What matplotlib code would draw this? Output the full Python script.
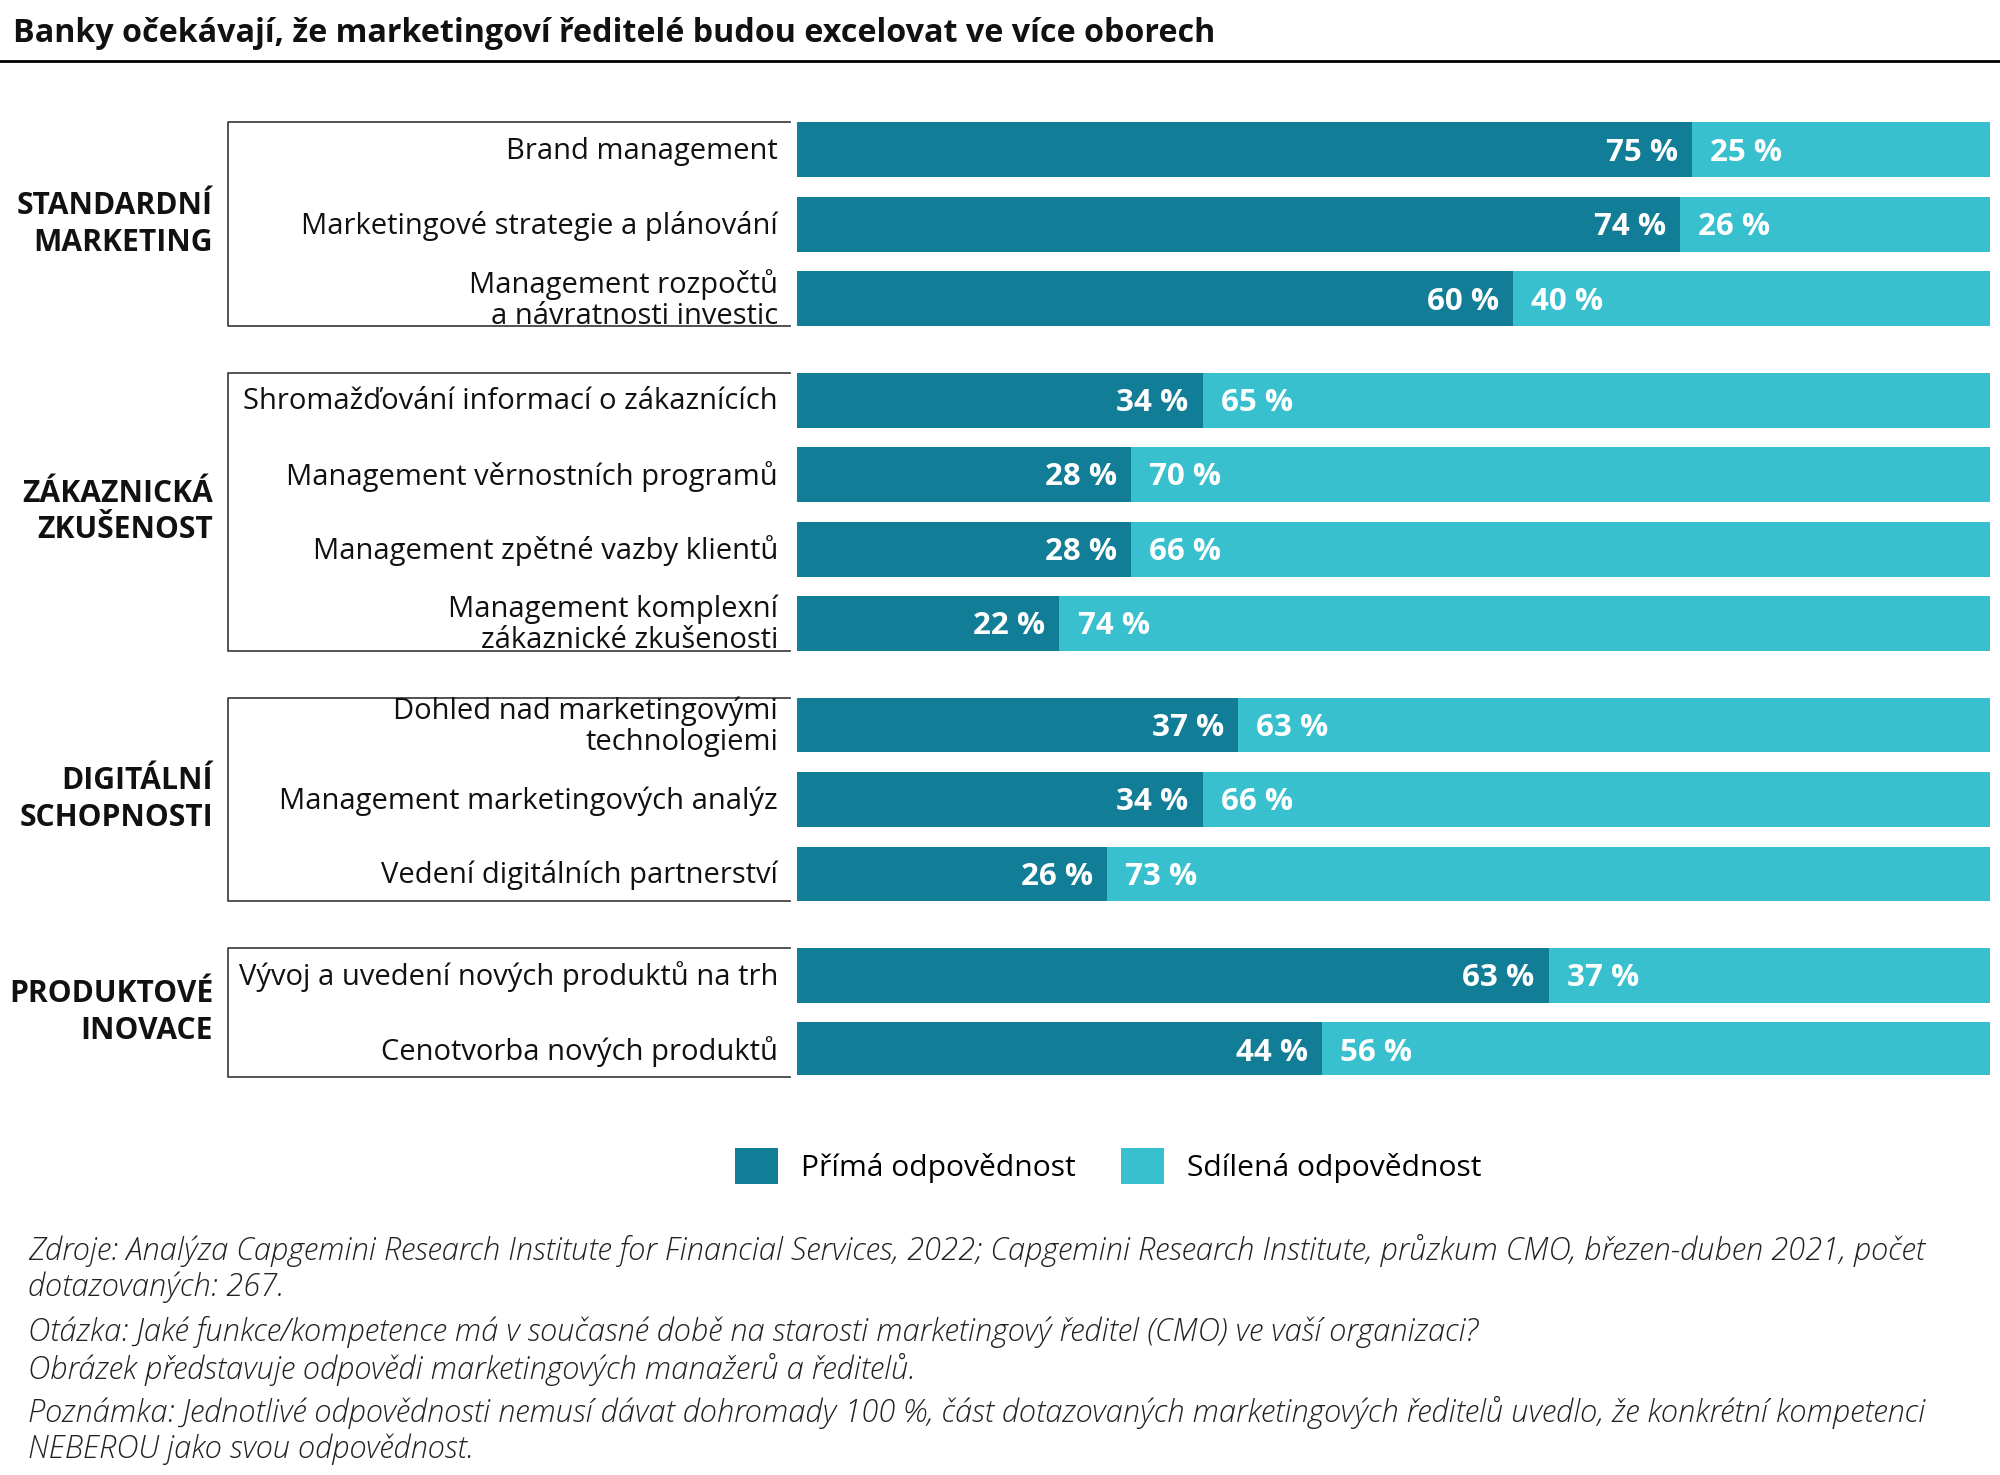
import numpy as np
import matplotlib.pyplot as plt
import matplotlib.transforms as mtransforms

plt.rcParams['font.family'] = ['Open Sans', 'DejaVu Sans']

############################################################################################################
# data
groups = ["STANDARDNÍ\nMARKETING", "ZÁKAZNICKÁ\nZKUŠENOST", "DIGITÁLNÍ\nSCHOPNOSTI", "PRODUKTOVÉ\nINOVACE"]
group_sizes = [3, 4, 3, 2]
items = ["Brand management",
         "Marketingové strategie a plánování",
         "Management rozpočtů\na návratnosti investic",
         "Shromažďování informací o zákaznících",
         "Management věrnostních programů",
         "Management zpětné vazby klientů",
         "Management komplexní\nzákaznické zkušenosti",
         "Dohled nad marketingovými\ntechnologiemi",
         "Management marketingových analýz",
         "Vedení digitálních partnerství",
         "Vývoj a uvedení nových produktů na trh",
         "Cenotvorba nových produktů"]
prima = [75, 74, 60, 34, 28, 28, 22, 37, 34, 26, 63, 44]
sdilena = [25, 26, 40, 65, 70, 66, 74, 63, 66, 73, 37, 56]
legend_labels = ["Přímá odpovědnost", "Sdílená odpovědnost"]

title = "Banky očekávají, že marketingoví ředitelé budou excelovat ve více oborech"
notes = ["Zdroje: Analýza Capgemini Research Institute for Financial Services, 2022; Capgemini Research Institute, průzkum CMO, březen-duben 2021, počet\ndotazovaných: 267.",
         "Otázka: Jaké funkce/kompetence má v současné době na starosti marketingový ředitel (CMO) ve vaší organizaci?\nObrázek představuje odpovědi marketingových manažerů a ředitelů.",
         "Poznámka: Jednotlivé odpovědnosti nemusí dávat dohromady 100 %, část dotazovaných marketingových ředitelů uvedlo, že konkrétní kompetenci\nNEBEROU jako svou odpovědnost."]

c_dark = "#127D96"
c_light = "#38C0CE"
W, H = 2000, 1475
###########################################################################################################
# row positions (group gap in row units)
gap = 0.36
ypos = []
k = 0
for g, n in enumerate(group_sizes):
    for i in range(n):
        ypos.append(k + g*gap)
        k += 1
ypos = np.array(ypos)
bh = 0.736

fig = plt.figure(figsize=(20, 14.75), dpi=100)
ax_top, ax_bot = 100, 1075
ax = fig.add_axes([797/W, 1 - ax_bot/H, (1990-797)/W, (ax_bot-ax_top)/H])
pitch = 74.5
top0 = (149.9 - ax_top)/pitch
ax.set_ylim(-top0 + (ax_bot-ax_top)/pitch, -top0)
ax.set_xlim(0, 100)
ax.axis('off')

b1 = ax.barh(ypos, prima, height=bh, color=c_dark, label=legend_labels[0])
b2 = ax.barh(ypos, [100 - p for p in prima], left=prima, height=bh, color=c_light, label=legend_labels[1])

for y, p, s in zip(ypos, prima, sdilena):
    ax.annotate(f"{p} %", (p, y), xytext=(-10, -2), textcoords='offset points', ha='right', va='center',
                color='white', fontsize=22.5, fontweight='bold')
    ax.annotate(f"{s} %", (p, y), xytext=(13, -2), textcoords='offset points', ha='left', va='center',
                color='white', fontsize=22.5, fontweight='bold')

# row labels, boxes and group labels
tr = mtransforms.blended_transform_factory(fig.transFigure, ax.transData)
for y, lab in zip(ypos, items):
    ax.annotate(lab, (778/W, y), xycoords=tr, xytext=(0, -1), textcoords='offset points',
                ha='right', va='center', fontsize=21, linespacing=1.08, color='#111111')

k = 0
for g, n in enumerate(group_sizes):
    y_top = ypos[k] - bh/2
    y_bot = ypos[k+n-1] + bh/2
    ax.plot([790/W, 228/W, 228/W, 790/W], [y_top, y_top, y_bot, y_bot], transform=tr, color='#444444',
            lw=1.3, clip_on=False)
    ax.text(213/W, (ypos[k] + ypos[k+n-1])/2, groups[g], transform=tr, ha='right', va='center',
            fontsize=21.6, fontweight='bold', linespacing=1.3, color='#111111')
    k += n

# title
fig.text(13/W, 1 - 33/H, title, ha='left', va='center', fontsize=23.2, fontweight='bold', color='#111111')
fig.add_artist(plt.Line2D([0, 1], [1 - 61/H, 1 - 61/H], color='black', lw=2))

# legend
fig.legend(handles=[b1, b2], loc='center', bbox_to_anchor=(1108/W, 1 - 1166/H), ncol=2, frameon=False,
           fontsize=21.6, handlelength=1.45, handleheight=1.5, handletextpad=0.75, columnspacing=1.5)

# notes
note_y = [1247, 1329, 1409]
for ny, txt in zip(note_y, notes):
    fig.text(28/W, 1 - (ny - 13)/H, txt, ha='left', va='top', fontsize=22.2, style='italic',
             fontweight='light', linespacing=1.2, color='#222222')

fig.savefig("out.png", dpi=100)
